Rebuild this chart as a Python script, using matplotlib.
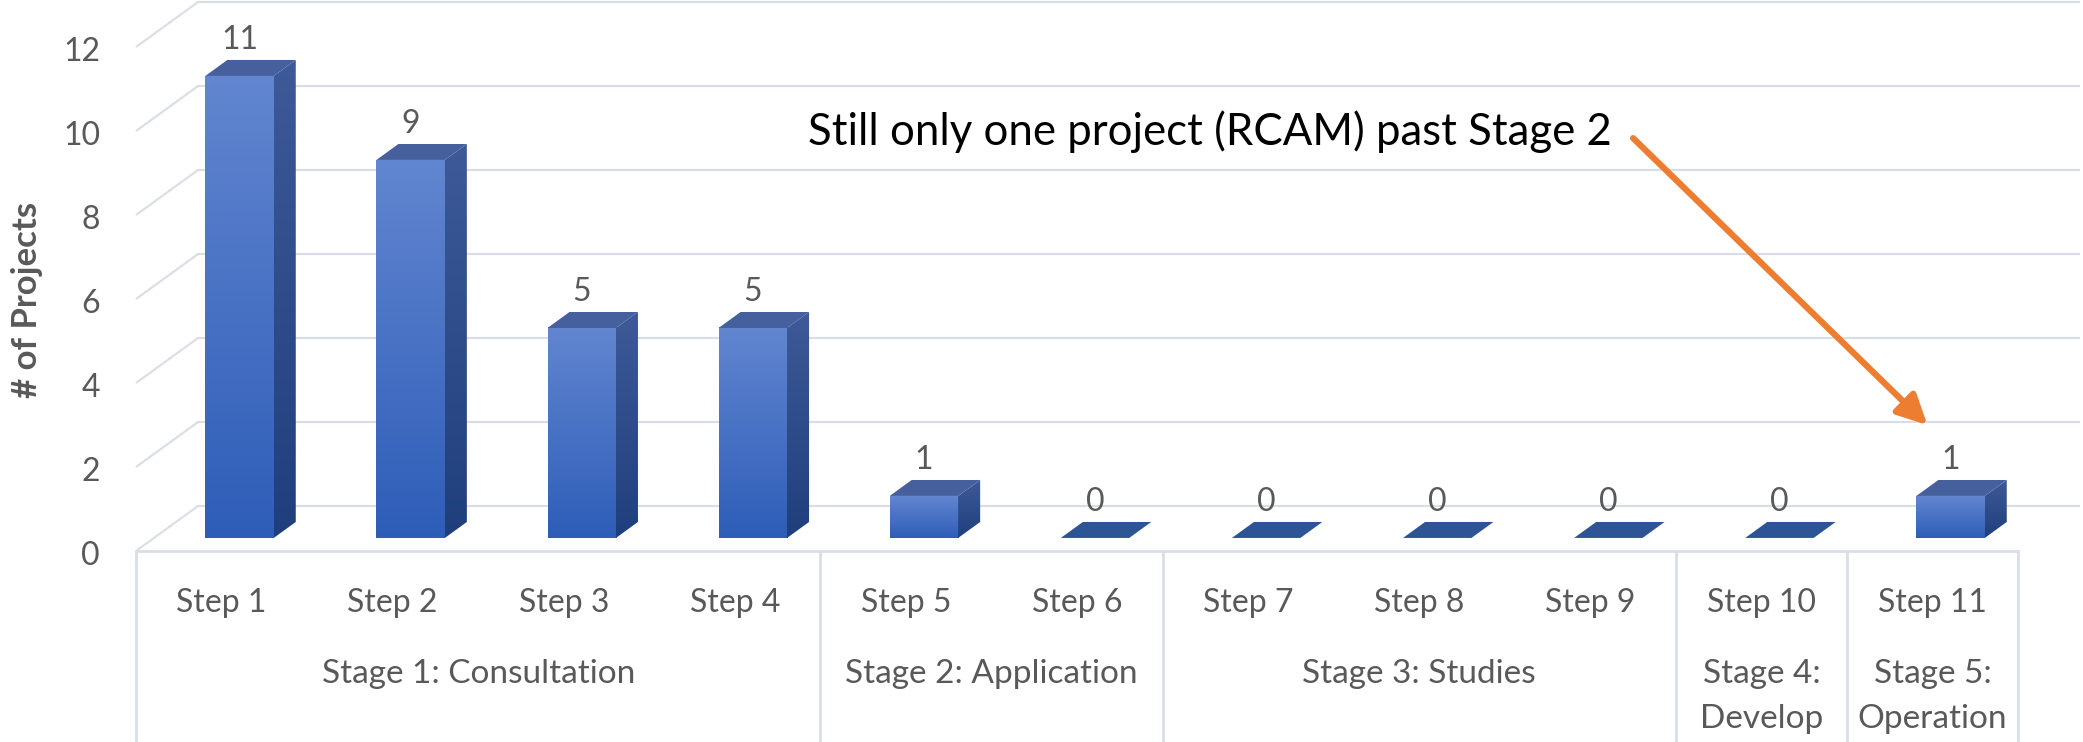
import numpy as np
import matplotlib
matplotlib.use("Agg")
import matplotlib.pyplot as plt
from matplotlib.patches import Polygon
from matplotlib.colors import LinearSegmentedColormap


# Data.
steps = ["Step 1", "Step 2", "Step 3", "Step 4", "Step 5", "Step 6",
         "Step 7", "Step 8", "Step 9", "Step 10", "Step 11"]
projects = [11, 9, 5, 5, 1, 0, 0, 0, 0, 0, 1]
stageLabels = [["Stage 1: Consultation"], ["Stage 2: Application"], ["Stage 3: Studies"],
               ["Stage 4:", "Develop"], ["Stage 5:", "Operation"]]
stageSizes = [4, 2, 3, 1, 1]
yTicks = [0, 2, 4, 6, 8, 10, 12]
note = "Still only one project (RCAM) past Stage 2"


# Fake 3D geometry (oblique projection), pixel sizes turned into data units.
W, H = 2083, 742
PX_X = 171.1          # pixels per category
PX_Y = 42.0           # pixels per project
LEFT_PX, FLOOR_PX = 136, 551
DX = 62 / PX_X        # depth of floor, x
DY = 45 / PX_Y        # depth of floor, y
BAR_W = 0.4
F0, F1 = 0.29, 0.645  # front / back of bars as fraction of depth

gridColour = "#D9DEE6"
textColour = "#595959"
font = "Lato"

frontCmap = LinearSegmentedColormap.from_list("front", ["#2E5DB8", "#6286D0"])
sideCmap = LinearSegmentedColormap.from_list("side", ["#1F3F7C", "#3E5A98"])
topColour = "#46609E"
flatColour = "#2D5596"


fig = plt.figure(figsize=(W / 100, H / 100), dpi=100)
ax = fig.add_axes([0, 0, 1, 1])
xMin = -0.5 - LEFT_PX / PX_X
xMax = -0.5 + (W - LEFT_PX) / PX_X
yMin = -(H - FLOOR_PX) / PX_Y
yMax = FLOOR_PX / PX_Y
ax.axis("off")

n = len(steps)

# Walls and gridlines.
for v in yTicks:
    ax.plot([-0.5, -0.5 + DX, n - 0.5 + DX], [v, v + DY, v + DY],
            color=gridColour, lw=1.5, zorder=1, solid_capstyle="butt")
    ax.text(-0.71, v - 0.33, str(v), ha="right", va="baseline",
            fontsize=23, color=textColour, family=font)

# Floor front edge and category boxes.
ax.plot([-0.5, n - 0.5], [0, 0], color=gridColour, lw=2, zorder=1)
bounds = np.concatenate([[0], np.cumsum(stageSizes)]) - 0.5
ax.vlines(bounds, yMin, 0, color=gridColour, lw=2, zorder=1)

# Bars.
grad = np.linspace(0, 1, 256).reshape(-1, 1)
dx = (F1 - F0) * DX
dy = (F1 - F0) * DY
for i, v in enumerate(projects):
    x0 = i + F0 * DX - BAR_W / 2
    x1 = x0 + BAR_W
    yb = F0 * DY
    yt = v + F0 * DY
    topPts = [(x0, yt), (x1, yt), (x1 + dx, yt + dy), (x0 + dx, yt + dy)]
    if v == 0:
        ax.add_patch(Polygon(topPts, closed=True, facecolor=flatColour,
                             edgecolor="none", zorder=3))
    else:
        ax.imshow(grad, extent=[x0, x1, yb, yt], origin="lower", cmap=frontCmap,
                  aspect="auto", interpolation="bilinear", zorder=3)
        sidePts = [(x1, yb), (x1 + dx, yb + dy), (x1 + dx, yt + dy), (x1, yt)]
        sidePatch = Polygon(sidePts, closed=True, facecolor="none", edgecolor="none")
        ax.add_patch(sidePatch)
        im = ax.imshow(grad, extent=[x1, x1 + dx, yb, yt + dy], origin="lower",
                       cmap=sideCmap, aspect="auto", interpolation="bilinear", zorder=3)
        im.set_clip_path(sidePatch)
        ax.add_patch(Polygon(topPts, closed=True, facecolor=topColour,
                             edgecolor="none", zorder=3))

    ax.text(i + F0 * DX, v + F1 * DY + 11 / PX_Y, str(v), ha="center", va="baseline",
            fontsize=23, color=textColour, family=font, zorder=4)

# Category labels.
for i, s in enumerate(steps):
    ax.text(i, -1.452, s, ha="center", va="baseline",
            fontsize=23, color=textColour, family=font)

for k, lines in enumerate(stageLabels):
    xc = (bounds[k] + bounds[k + 1]) / 2
    for j, line in enumerate(lines):
        ax.text(xc, -3.143 - j * 45 / PX_Y, line, ha="center", va="baseline",
                fontsize=24, color=textColour, family=font)

# Axis title.
ax.text(-1.137, 5.976, "# of Projects", rotation=90, ha="center", va="center",
        fontsize=25, fontweight="bold", color=textColour, family=font)

# Annotation.
ax.text(3.428, 9.667, note, ha="left", va="baseline", fontsize=31.5,
        color="black", family=font)
ax.annotate("", xy=(9.97, 3.0), xytext=(8.25, 9.83),
            arrowprops=dict(arrowstyle="-|>", color="#ED7D31", lw=4.5,
                            mutation_scale=45, shrinkA=0, shrinkB=0))

ax.set_xlim(xMin, xMax)
ax.set_ylim(yMin, yMax)

plt.savefig("out.png", dpi=100)
